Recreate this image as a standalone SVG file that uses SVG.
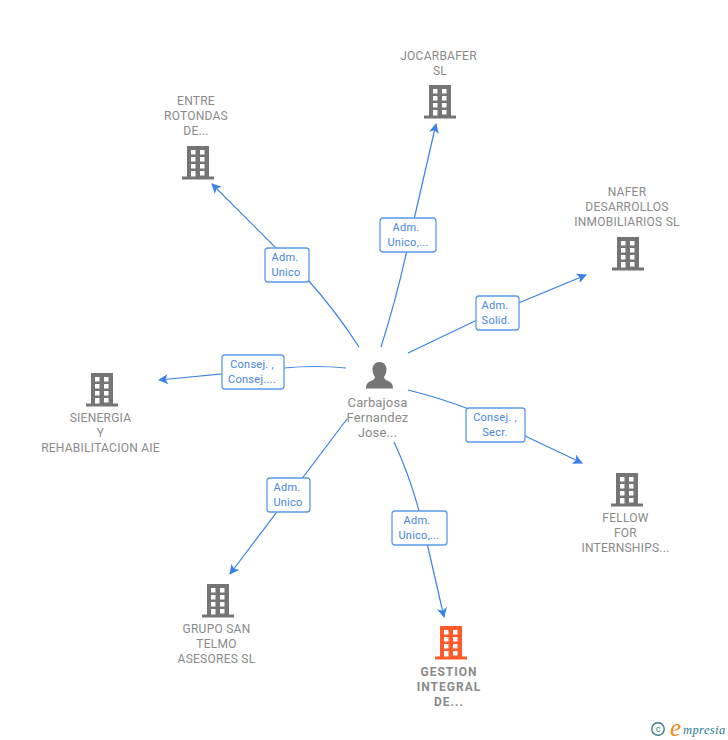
<svg xmlns="http://www.w3.org/2000/svg" width="728" height="740" viewBox="0 0 728 740">
<style>
.c{fill:none;stroke:#3b82e6;stroke-width:1.2}
.a{fill:#3b82e6}
.b{fill:#fff;stroke:#5a9ae8;stroke-width:1.3}
.bt{font:11px Roboto,"Liberation Sans",sans-serif;fill:#4585de;text-anchor:middle;letter-spacing:.25px}
.t{font:12px Roboto,"Liberation Sans",sans-serif;fill:#8a8a8a;text-anchor:middle;letter-spacing:.25px}
.p{font:13px Roboto,"Liberation Sans",sans-serif;fill:#8a8a8a;text-anchor:middle;letter-spacing:.15px}
.g{font-weight:700;letter-spacing:1px}
</style>
<defs>
<path id="bld" fill-rule="evenodd" d="M-11-0H11V30.500H16V33.500H-16V30.500H-11ZM-7 4V8.500H-2.500V4ZM2 4V8.500H6.500V4ZM-7 11V15.500H-2.500V11ZM2 11V15.500H6.500V11ZM-7 18V22.500H-2.500V18ZM2 18V22.500H6.500V18ZM-7 25V30.500H-2.500V25ZM2 25V29.500H6.500V25Z"/>
<marker id="ah" viewBox="0 0 10 10" refX="9" refY="5" markerWidth="10" markerHeight="10" orient="auto" markerUnits="userSpaceOnUse"><path class="a" d="M0 0L10 5L0 10L2.500 5Z"/></marker>
</defs>
<g id="connectors">
<path class="c" marker-end="url(#ah)" d="M381 347Q396 300 407 250L436 124"/>
<path class="c" marker-end="url(#ah)" d="M359 347Q335 310 308 280L212 184"/>
<path class="c" marker-end="url(#ah)" d="M408 353L475 321L586 275"/>
<path class="c" marker-end="url(#ah)" d="M346 368Q315 365 284 368L159 380"/>
<path class="c" marker-end="url(#ah)" d="M408 390Q440 398 466 408L582 463"/>
<path class="c" marker-end="url(#ah)" d="M347 419L230 574"/>
<path class="c" marker-end="url(#ah)" d="M394 442Q412 480 424 530L444 617"/>
</g>
<g id="edge-labels">
<g><rect class="b" x="380" y="218" width="56" height="34" rx="3"/><text class="bt" x="406" y="231">Adm.</text><text class="bt" x="408" y="246">Unico,...</text></g>
<g><rect class="b" x="265" y="248" width="44" height="34" rx="3"/><text class="bt" x="285" y="261">Adm.</text><text class="bt" x="286" y="276">Unico</text></g>
<g><rect class="b" x="476" y="296" width="43" height="34" rx="3"/><text class="bt" x="495" y="309">Adm.</text><text class="bt" x="496" y="324">Solid.</text></g>
<g><rect class="b" x="222" y="355" width="62" height="34" rx="3"/><text class="bt" x="252" y="368">Consej. ,</text><text class="bt" x="252" y="383">Consej....</text></g>
<g><rect class="b" x="466" y="408" width="59" height="34" rx="3"/><text class="bt" x="495" y="421">Consej. ,</text><text class="bt" x="495" y="436">Secr.</text></g>
<g><rect class="b" x="267" y="478" width="43" height="34" rx="3"/><text class="bt" x="287" y="491">Adm.</text><text class="bt" x="288" y="506">Unico</text></g>
<g><rect class="b" x="392" y="511" width="55" height="34" rx="3"/><text class="bt" x="417" y="524">Adm.</text><text class="bt" x="419" y="539">Unico,...</text></g>
</g>
<g id="n-person">
<path fill="#757575" d="M379.500 362C384 362 386.500 365.500 386.500 369.500C386.500 373 385 375.500 384 377C384 379 386 380 388 381C391 382 393 384 393 388.500H366C366 384 368 382 371 381C373 380 375 379 375 377C374 375.500 372.500 373 372.500 369.500C372.500 365.500 375 362 379.500 362Z"/>
<text class="p" x="377.500" y="407">Carbajosa</text><text class="p" x="377.500" y="422">Fernandez</text><text class="p" x="377.500" y="437">Jose...</text>
</g>
<g id="n-jocarbafer" fill="#757575"><use href="#bld" x="440" y="85"/><text class="t" x="438.500" y="60">JOCARBAFER</text><text class="t" x="440" y="75">SL</text></g>
<g id="n-entre" fill="#757575"><use href="#bld" x="198" y="146"/><text class="t" x="196" y="105">ENTRE</text><text class="t" x="196" y="120">ROTONDAS</text><text class="t" x="196" y="135">DE...</text></g>
<g id="n-nafer" fill="#757575"><use href="#bld" x="628" y="237"/><text class="t" x="627" y="196">NAFER</text><text class="t" x="627" y="211">DESARROLLOS</text><text class="t" x="627" y="226">INMOBILIARIOS SL</text></g>
<g id="n-sienergia" fill="#757575"><use href="#bld" x="102" y="373"/><text class="t" x="100.500" y="422">SIENERGIA</text><text class="t" x="100.500" y="437">Y</text><text class="t" x="100.500" y="452">REHABILITACION AIE</text></g>
<g id="n-fellow" fill="#757575"><use href="#bld" x="627" y="473"/><text class="t" x="625.500" y="522">FELLOW</text><text class="t" x="625.500" y="537">FOR</text><text class="t" x="625.500" y="552">INTERNSHIPS...</text></g>
<g id="n-grupo" fill="#757575"><use href="#bld" x="218" y="584"/><text class="t" x="216.500" y="633">GRUPO SAN</text><text class="t" x="216.500" y="648">TELMO</text><text class="t" x="216.500" y="663">ASESORES SL</text></g>
<g id="n-gestion"><use href="#bld" x="451" y="626" fill="#ff5b2b"/><text class="t g" x="449" y="676">GESTION</text><text class="t g" x="449" y="691">INTEGRAL</text><text class="t g" x="449" y="706">DE...</text></g>
<g id="brand">
<circle cx="658" cy="729" r="6.200" fill="none" stroke="#3a7d8c" stroke-width="1.400"/>
<text x="658" y="732" font-family="Roboto,sans-serif" font-size="9" fill="#3a7d8c" text-anchor="middle">c</text>
<text x="670" y="736" font-family="'Liberation Serif',serif" font-style="italic" font-size="25" fill="#f08a1d">e</text>
<text x="683" y="734" font-family="'Liberation Serif',serif" font-style="italic" font-size="12.500" fill="#2a7a8c" letter-spacing=".4">mpresia</text>
</g>
</svg>
